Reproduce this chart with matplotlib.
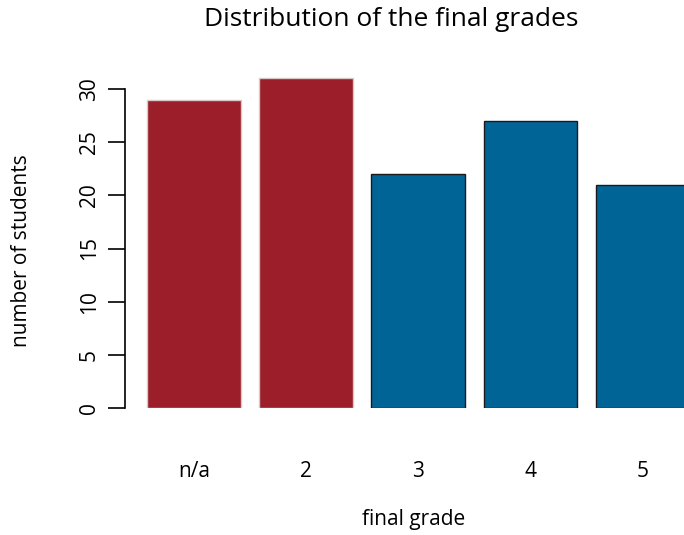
import numpy as np
import matplotlib.pyplot as plt

# ----------------------------------
# Data
# ----------------------------------

grades = ["n/a", "2", "3", "4", "5"]
students = [29, 31, 22, 27, 21]
bar_colors = ["#9b1e2a", "#9b1e2a", "#006497", "#006497", "#006497"]
edge_colors = ["#d8c8c8", "#d8c8c8", "#1a1a1a", "#1a1a1a", "#1a1a1a"]

plt.rcParams["font.family"] = ["Open Sans", "DejaVu Sans"]

W, H = 684, 535
fig = plt.figure(figsize=(W / 100, H / 100), dpi=100)

# axes placed in pixel coords: left spine at x=125, zero at y=408
ax_left, ax_right = 125, 684
ax_bottom, ax_top = 408, 60
ax = fig.add_axes([ax_left / W, 1 - ax_bottom / H,
                   (ax_right - ax_left) / W, (ax_bottom - ax_top) / H])

# R barplot layout: width 1, space 0.2
pos = 0.7 + 1.2 * np.arange(len(grades))
ax.bar(pos, students, width=1.0, color=bar_colors,
       edgecolor=edge_colors, linewidth=1.0)

px_per_unit = 93.5
ax.set_xlim(0.2 - (147 - ax_left) / px_per_unit,
            0.2 + (ax_right - 147) / px_per_unit)
ax.set_ylim(0, (ax_bottom - ax_top) / (319 / 30))

for s in ["top", "right", "bottom"]:
    ax.spines[s].set_visible(False)
ax.spines["left"].set_bounds(0, 30)
ax.spines["left"].set_linewidth(1.2)

ax.set_yticks([0, 5, 10, 15, 20, 25, 30])
ax.tick_params(axis="y", length=12, width=1.2, labelsize=15, pad=6)
for lbl in ax.get_yticklabels():
    lbl.set_rotation(90)
    lbl.set_va("center")

ax.set_xticks(pos)
ax.set_xticklabels(grades)
ax.tick_params(axis="x", length=0, labelsize=15, pad=38)

fig.text(391 / W, 1 - 19 / H, "Distribution of the final grades",
         ha="center", va="center", fontsize=19)
fig.text(414 / W, 1 - 519 / H, "final grade",
         ha="center", va="center", fontsize=15)
fig.text(22 / W, 1 - 251 / H, "number of students",
         ha="center", va="center", rotation=90, fontsize=15)

plt.savefig("out.png", dpi=100)
